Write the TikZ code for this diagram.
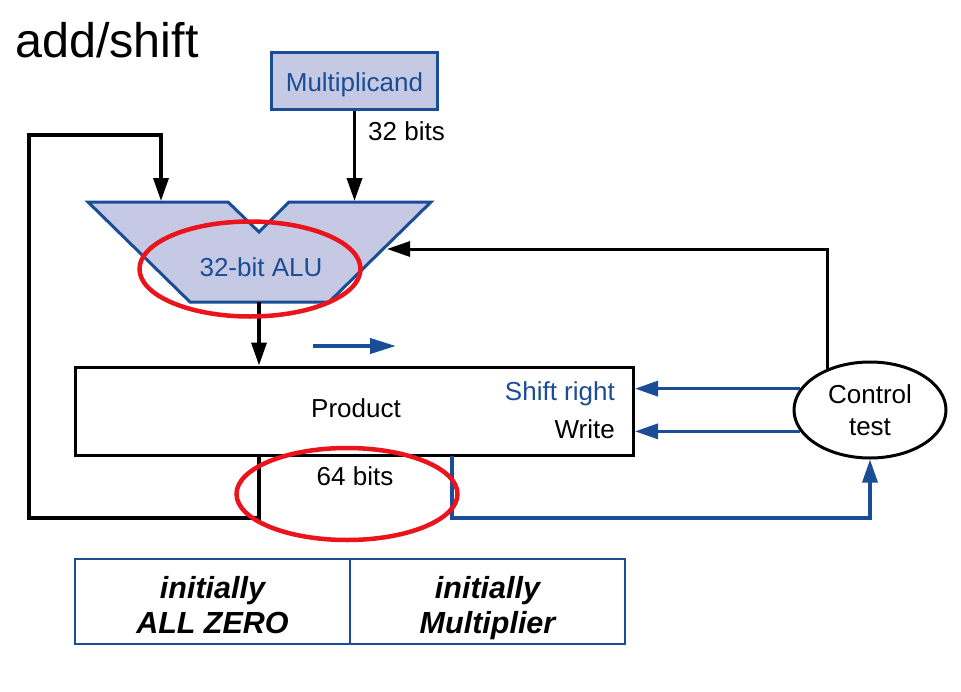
\documentclass[tikz,border=0pt]{standalone}
\usepackage{fontspec}
\setmainfont{Liberation Sans}
\usetikzlibrary{arrows.meta,shapes.geometric,backgrounds}
\definecolor{dblue}{RGB}{26,77,150}
\definecolor{lav}{RGB}{197,201,228}
\definecolor{gbar}{RGB}{188,188,192}
\definecolor{rred}{RGB}{235,20,28}
\begin{document}
\begin{tikzpicture}[x=1pt,y=-1pt,
  lbl/.style={font=\fontsize{26}{32}\selectfont, inner sep=0pt},
  arr/.style={line width=3.5pt, -{Triangle[length=23pt,width=15pt]}},
  barr/.style={arr, line width=3.3pt, draw=dblue},
  cell/.style={draw=dblue, line width=1.5pt, minimum height=85pt, inner sep=0pt},
  celltxt/.style={inner sep=0pt, anchor=base, font=\fontsize{30.5}{35}\selectfont\bfseries\itshape},
  redring/.style={ellipse, draw=rred, line width=4.5pt, inner sep=0pt}]
\useasboundingbox (0,0) rectangle (961,691);
\fill[white] (0,0) rectangle (961,691);

% title
\node[anchor=base west, inner sep=0pt, font=\fontsize{48.5}{56}\selectfont] (title) at (15,57) {add/shift};

% multiplicand
\node[draw=dblue, fill=lav, line width=3pt, minimum width=166pt, minimum height=57pt,
  inner sep=0pt] (mcand) at (354.5,81) {};
\node[lbl, text=dblue, anchor=base] (mcandtxt) at (354.5,91) {Multiplicand};

% ALU
\draw[fill=lav, draw=dblue, line width=3pt, line join=miter]
  (88,202) -- (228,202) -- (259,232) -- (289,202) -- (431,202) -- (329,302) -- (190,302) -- cycle;
\node[lbl, text=dblue, anchor=base] (alu) at (261,276) {32-bit ALU};
\coordinate (aluL) at (161,201);
\coordinate (aluR) at (354.5,201);
\coordinate (aluOut) at (259,302);
\coordinate (aluSide) at (387,249);

\draw[arr] (mcand.south) -- (aluR);
\node[lbl, anchor=base west] (b32) at (368,140) {32 bits};

% product register
\node[draw, line width=3pt, minimum width=558pt, minimum height=88pt, inner sep=0pt]
  (prod) at (354.5,411) {};
\begin{scope}[on background layer]
  \draw[gbar, line width=8pt] (prod.north) -- (prod.south);
\end{scope}
\node[lbl, anchor=base] (prodtxt) at (356,417) {Product};
\node[lbl, text=dblue, anchor=base east] (shr) at (615,400) {Shift right};
\node[lbl, anchor=base east] (wr) at (615,438) {Write};
\node[lbl, anchor=base] (b64) at (355,485) {64 bits};

\draw[arr] (aluOut) -- (aluOut |- prod.north);

% small shift arrow
\coordinate (sa) at (313,346);
\coordinate (sb) at (396,346);
\draw[barr, line width=4pt, -{Triangle[length=26pt,width=15pt]}] (sa) -- (sb);

% feedback loop to ALU left input
\coordinate (pL) at (259,456);
\coordinate (l1) at (259,518);
\coordinate (l2) at (29,518);
\coordinate (l3) at (29,135);
\coordinate (l4) at (161,135);
\draw[arr, line join=miter] (pL) -- (l1) -- (l2) -- (l3) -- (l4) -- (aluL);

% control
\node[ellipse, draw, line width=3pt, minimum width=152pt, minimum height=96pt,
  inner sep=0pt, align=center, font=\fontsize{26}{32}\selectfont] (ctrl) at (870,410) {Control\\test};

\coordinate (pR) at (452,456);
\draw[barr, line join=miter] (pR) -- ++(0,62) -| (ctrl.south);
\draw[barr] (ctrl.163) -- (ctrl.163 -| prod.east);
\draw[barr] (ctrl.197) -- (ctrl.197 -| prod.east);
\draw[arr, line width=3pt, line join=miter] (ctrl.136) |- (aluSide);

% table
\node[cell, minimum width=275pt] (c1) at (212.5,601.5) {};
\node[cell, minimum width=275pt] (c2) at (487.5,601.5) {};
\node[celltxt] (c1a) at (212.5,598) {initially};
\node[celltxt] (c1b) at (212.5,633) {ALL ZERO};
\node[celltxt] (c2a) at (487.5,598) {initially};
\node[celltxt] (c2b) at (487.5,633) {Multiplier};

% red annotation rings
\node[redring, minimum width=221pt, minimum height=95pt] (r1) at (250,269) {};
\node[redring, minimum width=221pt, minimum height=92pt] (r2) at (347,494) {};
\end{tikzpicture}
\end{document}
